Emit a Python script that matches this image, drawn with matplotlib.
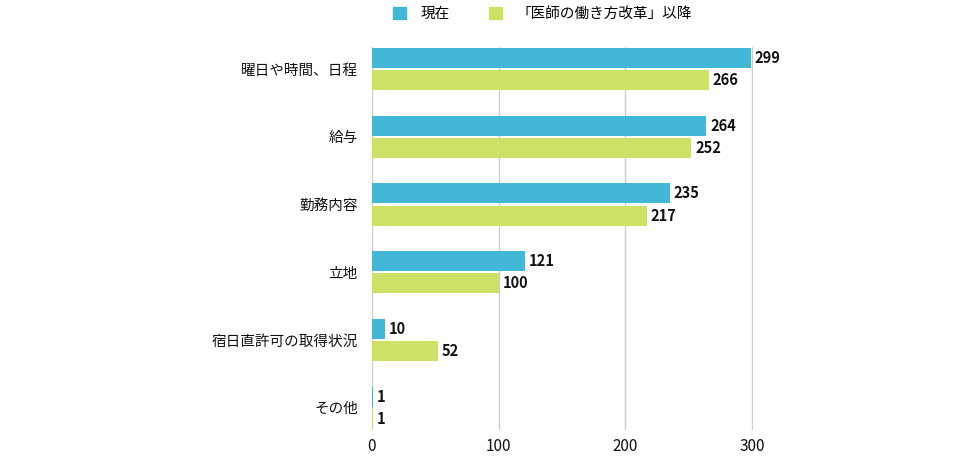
import matplotlib; matplotlib.use('Agg')
import matplotlib.pyplot as plt
from matplotlib.patches import Patch
import numpy as np

plt.rcParams['font.family'] = ['Noto Sans CJK JP', 'DejaVu Sans']

categories = ['曜日や時間、日程', '給与', '勤務内容', '立地', '宿日直許可の取得状況', 'その他']
current = [299, 264, 235, 121, 10, 1]
after_reform = [266, 252, 217, 100, 52, 1]
series_names = ['現在', '「医師の働き方改革」以降']
colors = ['#42b8d6', '#cce266']

fig = plt.figure(figsize=(9.76, 4.59), dpi=100)
ax = fig.add_axes([0.381, 0.063, 0.3908, 0.835])

y = np.arange(len(categories))
h = 0.295
off = 0.165
ax.barh(y - off, current, height=h, color=colors[0], lw=0, zorder=3)
ax.barh(y + off, after_reform, height=h, color=colors[1], lw=0, zorder=3)

for yi, v in zip(y - off, current):
    ax.text(v + 3, yi, str(v), va='center', ha='left', fontsize=10.5, fontweight='bold', color='#111111')
for yi, v in zip(y + off, after_reform):
    ax.text(v + 3, yi, str(v), va='center', ha='left', fontsize=10.5, fontweight='bold', color='#111111')

ax.set_xlim(0, 301)
ax.set_ylim(5.33, -0.33)
ax.set_yticks(y)
ax.set_yticklabels(categories, fontsize=10.5, color='#111111')
ax.set_xticks([0, 100, 200, 300])
ax.tick_params(axis='x', labelsize=11, length=0, pad=6, colors='#111111')
ax.tick_params(axis='y', length=0, pad=10)
ax.grid(axis='x', color='#cccccc', lw=1, zorder=0)
for s in ax.spines.values():
    s.set_visible(False)

handles = [Patch(color=c, label=n) for c, n in zip(colors, series_names)]
fig.legend(handles=handles, loc='center', bbox_to_anchor=(0.556, 0.97), ncol=2,
           frameon=False, fontsize=10.5, handlelength=0.9, handleheight=0.9,
           handletextpad=1.0, columnspacing=2.7)

plt.savefig('out.png', dpi=100)
plt.close()
